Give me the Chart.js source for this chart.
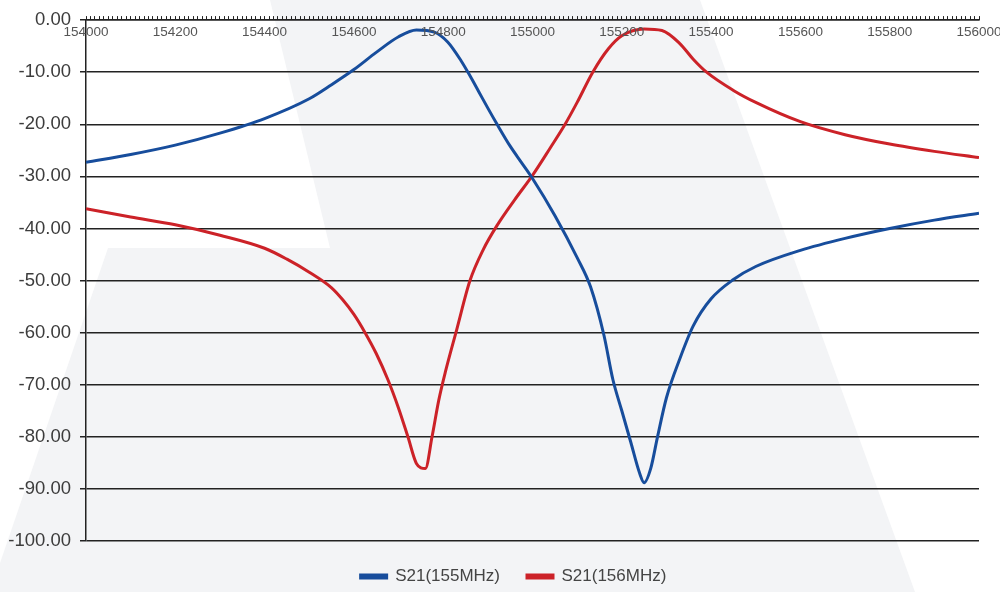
<!DOCTYPE html>
<html>
<head>
    <title>S21</title>
    <script src="https://cdn.jsdelivr.net/npm/chart.js"></script>
    <style>
        html, body { margin: 0; padding: 0; background: #fff; }
        #wrap { width: 1000px; height: 592px; }
    </style>
</head>
<body>
    <div id="wrap"><canvas id="s21Chart"></canvas></div>
    <script>
        // 数据
        const blueFreq = [154000, 154100, 154200, 154300, 154400, 154500, 154550, 154600, 154650, 154700, 154740, 154780, 154810, 154840, 154860, 154880, 154900, 154920, 154950, 154975, 155000, 155050, 155100, 155130, 155160, 155180, 155200, 155220, 155240, 155250, 155265, 155280, 155300, 155330, 155360, 155400, 155450, 155500, 155600, 155700, 155800, 155900, 156000];
        const blueVals = [-27.3, -25.8, -24.0, -21.7, -18.9, -15.1, -12.4, -9.5, -6.2, -3.2, -1.9, -2.3, -4.2, -7.8, -10.7, -13.8, -16.9, -19.9, -24.2, -27.3, -30.4, -37.5, -45.6, -51.2, -60.5, -69.0, -75.0, -81.0, -87.0, -88.8, -86.0, -80.0, -72.5, -65.0, -58.7, -53.5, -49.8, -47.3, -44.2, -41.9, -40.0, -38.4, -37.1];

        const redFreq = [154000, 154100, 154200, 154300, 154400, 154450, 154500, 154550, 154575, 154600, 154625, 154650, 154676, 154700, 154721, 154740, 154760, 154775, 154790, 154805, 154830, 154860, 154890, 154920, 154960, 155000, 155040, 155073, 155100, 155135, 155170, 155200, 155250, 155290, 155330, 155360, 155390, 155450, 155500, 155600, 155700, 155800, 155900, 156000];
        const redVals = [-36.2, -37.8, -39.3, -41.3, -43.8, -45.9, -48.4, -51.4, -53.7, -56.5, -60.0, -64.0, -69.0, -74.5, -80.0, -85.1, -86.1, -80.0, -73.0, -67.5, -59.5, -50.0, -44.0, -39.5, -34.5, -29.8, -24.5, -20.0, -15.8, -10.0, -5.5, -3.0, -1.7, -2.0, -4.5, -7.5, -10.0, -13.5, -15.8, -19.5, -22.0, -23.8, -25.2, -26.4];

        const xTickLabels = [154000, 154200, 154400, 154600, 154800, 155000, 155200, 155400, 155600, 155800, 156000];
        const seriesNames = ['S21(155MHz)', 'S21(156MHz)'];

        const font = '"Liberation Sans", Arial, sans-serif';

        // 背景水印
        const watermark = {
            id: 'watermark',
            beforeDraw(chart) {
                const c = chart.ctx;
                c.save();
                c.fillStyle = '#ffffff';
                c.fillRect(0, 0, chart.width, chart.height);
                c.fillStyle = '#f3f4f6';
                c.beginPath();
                c.moveTo(270, 0);
                c.lineTo(700, 0);
                c.lineTo(915, 592);
                c.lineTo(0, 592);
                c.lineTo(0, 563);
                c.lineTo(108, 248);
                c.lineTo(330, 248);
                c.closePath();
                c.fill();
                c.restore();
            }
        };

        // 图例整体右移一点
        const legendShift = {
            id: 'legendShift',
            afterLayout(chart) {
                if (chart.legend) {
                    chart.legend.left += 24;
                    chart.legend.right += 24;
                }
            }
        };

        // 顶部X轴标签画在轴线下面
        const topLabels = {
            id: 'topLabels',
            afterDraw(chart) {
                const c = chart.ctx;
                const sx = chart.scales.x;
                c.save();
                c.font = '13.5px ' + font;
                c.fillStyle = '#555';
                c.textAlign = 'center';
                c.textBaseline = 'middle';
                xTickLabels.forEach(v => {
                    c.fillText(String(v), sx.getPixelForValue(v), chart.chartArea.top + 12);
                });
                c.restore();
            }
        };

        const ctx = document.getElementById('s21Chart').getContext('2d');
        const chart = new Chart(ctx, {
            type: 'line',
            data: {
                datasets: [{
                    label: seriesNames[0],
                    data: blueFreq.map((f, i) => ({ x: f, y: blueVals[i] })),
                    borderColor: '#174d9c',
                    backgroundColor: '#174d9c',
                    borderWidth: 3,
                    pointRadius: 0,
                    cubicInterpolationMode: 'monotone'
                },
                {
                    label: seriesNames[1],
                    data: redFreq.map((f, i) => ({ x: f, y: redVals[i] })),
                    borderColor: '#cc2228',
                    backgroundColor: '#cc2228',
                    borderWidth: 3,
                    pointRadius: 0,
                    cubicInterpolationMode: 'monotone'
                }]
            },
            options: {
                responsive: true,
                maintainAspectRatio: false,
                animation: false,
                layout: { padding: { top: 11, right: 21, left: 0, bottom: -3 } },
                plugins: {
                    tooltip: { enabled: false },
                    legend: {
                        position: 'bottom',
                        labels: {
                            boxWidth: 26,
                            boxHeight: 3,
                            padding: 27,
                            color: '#444',
                            font: { family: font, size: 17 }
                        }
                    }
                },
                scales: {
                    x: {
                        type: 'linear',
                        position: 'top',
                        min: 154000,
                        max: 156000,
                        ticks: { stepSize: 10, autoSkip: false, display: false },
                        grid: { drawOnChartArea: false, drawTicks: true, tickLength: 4, color: '#222', lineWidth: 1 },
                        border: { display: true, color: '#222', width: 1.5 }
                    },
                    y: {
                        min: -100,
                        max: 0,
                        ticks: {
                            stepSize: 10,
                            padding: 9,
                            color: '#3c3c3c',
                            font: { family: font, size: 18.5 },
                            callback: v => v.toFixed(2)
                        },
                        grid: { color: '#222', lineWidth: 1.5, tickLength: 6 },
                        border: { display: true, color: '#222', width: 1.5 },
                        afterFit(s) { s.width = 86; }
                    }
                }
            },
            plugins: [watermark, legendShift, topLabels]
        });
    </script>
</body>
</html>
